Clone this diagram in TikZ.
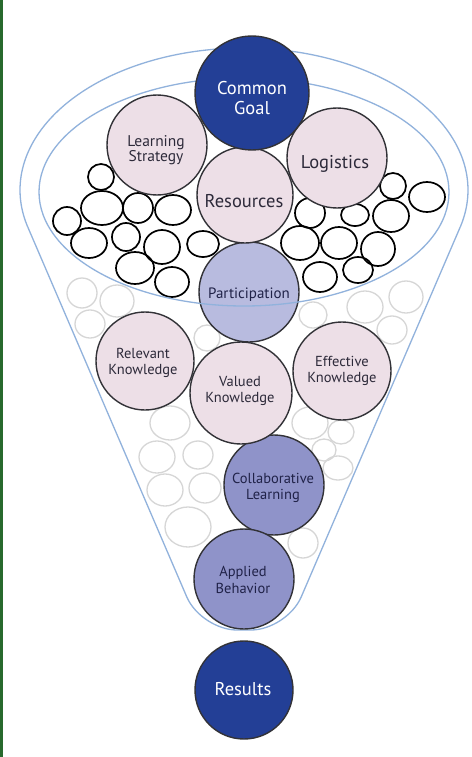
\documentclass[tikz,border=0pt]{standalone}
\usepackage{fontspec}
\setmainfont{PT Sans}
\definecolor{darkblue}{RGB}{35,63,150}
\definecolor{pinkfill}{RGB}{237,223,231}
\definecolor{lavlight}{RGB}{184,187,223}
\definecolor{lavmed}{RGB}{143,147,201}
\definecolor{funline}{RGB}{145,178,220}
\definecolor{grayline}{RGB}{214,214,214}
\definecolor{bord}{RGB}{50,50,55}
\definecolor{txtdark}{RGB}{45,42,58}
\definecolor{txtnavy}{RGB}{32,34,72}
\definecolor{leftgreen}{RGB}{40,105,45}
\tikzset{
  bigc/.style={circle, draw=bord, line width=1.4pt, inner sep=0pt},
  lbl/.style={inner sep=0pt, align=center},
  smalltxt/.style={font=\fontsize{14.5}{16.5}\selectfont},
  midtxt/.style={font=\fontsize{15.5}{15}\selectfont},
  largetxt/.style={font=\fontsize{18.5}{20}\selectfont},
  pinkc/.style={bigc, fill=pinkfill},
  lavlc/.style={bigc, fill=lavlight},
  lavmc/.style={bigc, fill=lavmed},
  bluec/.style={bigc, fill=darkblue},
  darktxt/.style={lbl, text=txtdark},
  navytxt/.style={lbl, text=txtnavy},
  whitetxt/.style={lbl, text=white},
  funnel/.style={draw=funline, line width=1.3pt},
  blk/.style={draw=black, line width=1.7pt},
  grc/.style={draw=grayline, line width=1.3pt}
}
\begin{document}
\begin{tikzpicture}[x=1pt,y=-1pt]
\useasboundingbox (0,0) rectangle (471,757);
\fill[white] (0,0) rectangle (471,757);
\fill[leftgreen] (0,0) rectangle (2.5,757);

% light gray circles in the cone
\foreach \cx/\cy/\ra/\rb in {82/293/15/15, 117/301/17/16, 90/324/15/14, 207/338/13/13,
  313/315/14/13, 365/307/18/16, 406/297/17/16, 392/330/15/14,
  170/423/20/17, 157/457/18/16, 198/455/15/14, 165/490/18/16, 205/488/16/15,
  188/527/23/20, 310/423/18/16, 341/432/13/12, 324/450/12/11, 338/468/15/12, 303/543/15/15}
  \draw[grc] (\cx,\cy) ellipse [x radius=\ra pt, y radius=\rb pt];

% outer funnel
\draw[funnel] plot[domain=195.25:-15.25, samples=90, smooth] ({244+224*cos(\x)},{190-142*sin(\x)});
\coordinate (tl) at (27.9,227.3);
\coordinate (bl) at (201,630);
\coordinate (br) at (287,630);
\coordinate (tr) at (460.1,227.3);
\draw[funnel, rounded corners=36pt] (tl) -- (bl) -- (br) -- (tr);

% black circles in the bowl
\foreach \cx/\cy/\ra/\rb in {101/177/13/13, 102/208/21/17, 67/221/14/14, 138/208/15/15,
  173/210/18/15, 89/243/18/15, 126/237/14/14, 162/247/18/17, 203/244/16/13,
  135/268/19/16, 172/282/17/15, 310/213/15/15, 355/215/14/11, 391/216/18/16,
  393/186/13/13, 427/197/18/15, 300/243/19/17, 339/243/18/16, 378/249/17/17,
  320/277/17/15, 358/270/15/13}
  \draw[blk] (\cx,\cy) ellipse [x radius=\ra pt, y radius=\rb pt];

\node[lavlc, minimum size=100pt] (pa) at (249,292) {};
\node[navytxt, font=\fontsize{15}{17}\selectfont] (pat) at (249,295) {Participation};

% inner ellipse
\draw[funnel] (244,192) ellipse [x radius=205pt, y radius=114pt];

\node[pinkc, minimum size=100pt] (ls) at (157,145) {};
\node[darktxt, midtxt] (lst) at (156,150) {Learning\\Strategy};
\node[pinkc, minimum size=100pt] (lo) at (337,158) {};
\node[darktxt, largetxt] (lot) at (335,164) {Logistics};
\node[pinkc, minimum size=96pt] (re) at (245,195) {};
\node[darktxt, largetxt] (ret) at (244,201) {Resources};
\node[bluec, minimum size=114pt] (cg) at (252,93) {};
\node[whitetxt, largetxt] (cgt) at (252,98) {Common\\Goal};

\node[pinkc, minimum size=98pt] (rk) at (145,361) {};
\node[darktxt, smalltxt] (rkt) at (143,363) {Relevant\\Knowledge};
\node[pinkc, minimum size=98pt] (ek) at (342,371) {};
\node[darktxt, smalltxt] (ekt) at (342,371) {Effective\\Knowledge};
\node[lavmc, minimum size=100pt] (cl) at (274,485) {};
\node[navytxt, smalltxt] (clt) at (273,488) {Collaborative\\Learning};
\node[pinkc, minimum size=102pt] (vk) at (241,393) {};
\node[darktxt, smalltxt] (vkt) at (240,391) {Valued\\Knowledge};
\node[lavmc, minimum size=100pt] (ab) at (244,579) {};
\node[navytxt, smalltxt] (abt) at (243,580) {Applied\\Behavior};

\node[bluec, minimum size=98pt] (rs) at (244,690) {};
\node[whitetxt, largetxt] (rst) at (243,689) {Results};
\end{tikzpicture}
\end{document}
